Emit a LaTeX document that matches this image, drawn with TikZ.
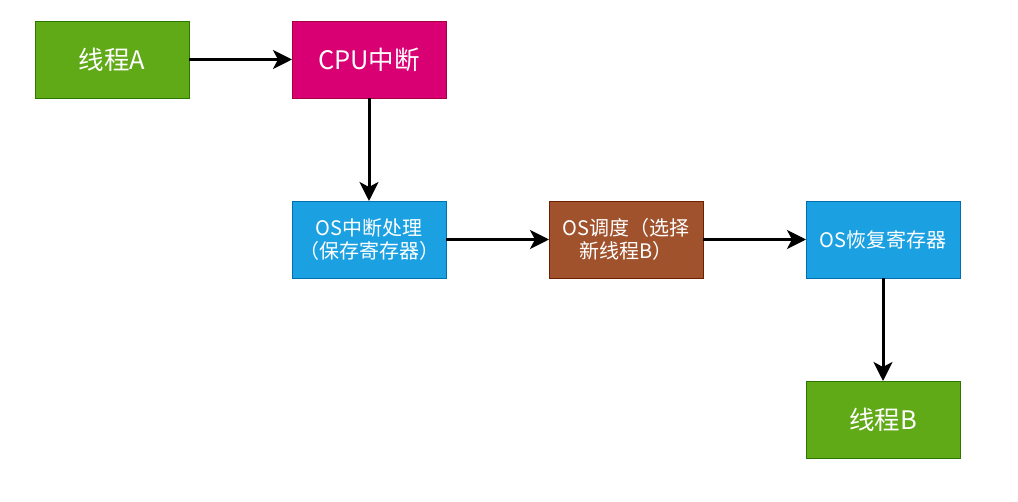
\documentclass[tikz,border=0pt]{standalone}
\usepackage{fontspec}
\setmainfont{Noto Sans CJK SC}
\usepackage{tikz}
\usetikzlibrary{arrows.meta,positioning}

\definecolor{threadgreen}{HTML}{60A917}
\definecolor{threadgreenline}{HTML}{2D7600}
\definecolor{cpumagenta}{HTML}{D80073}
\definecolor{cpumagentaline}{HTML}{A50040}
\definecolor{osblue}{HTML}{1BA1E2}
\definecolor{osblueline}{HTML}{006EAF}
\definecolor{schedbrown}{HTML}{A0522D}
\definecolor{schedbrownline}{HTML}{6D1F00}

\begin{document}
\begin{tikzpicture}[
    node distance=103pt,
    box/.style={draw, line width=0.8pt, minimum width=154pt, minimum height=77pt, outer sep=0pt, inner sep=2pt, align=center, text=white, font=\fontsize{20}{23.5}\selectfont},
    big/.style={font=\fontsize{25.5}{30}\selectfont},
    arrow/.style={-{Stealth[length=19pt,width=19pt,inset=5pt]}, line width=3pt, black}
]
\useasboundingbox (0pt,0pt) rectangle (1018pt,-502pt);

% Threads and interrupt
\node[box, big, fill=threadgreen, draw=threadgreenline] (threadA) at (112pt,-59.5pt) {线程A};

\node[box, big, fill=cpumagenta, draw=cpumagentaline, right=of threadA] (cpu) {CPU中断};

% OS handling
\node[box, fill=osblue, draw=osblueline, below=of cpu] (handle) {OS中断处理\\（保存寄存器）};

\node[box, fill=schedbrown, draw=schedbrownline, right=of handle] (sched) {OS调度（选择\\新线程B）};

\node[box, fill=osblue, draw=osblueline, right=of sched] (restore) {OS恢复寄存器};

\node[box, big, fill=threadgreen, draw=threadgreenline, below=of restore] (threadB) {线程B};

% Arrows
\draw[arrow] (threadA) -- (cpu);
\draw[arrow] (cpu) -- (handle);
\draw[arrow] (handle) -- (sched);
\draw[arrow] (sched) -- (restore);
\draw[arrow] (restore) -- (threadB);

\end{tikzpicture}
\end{document}
